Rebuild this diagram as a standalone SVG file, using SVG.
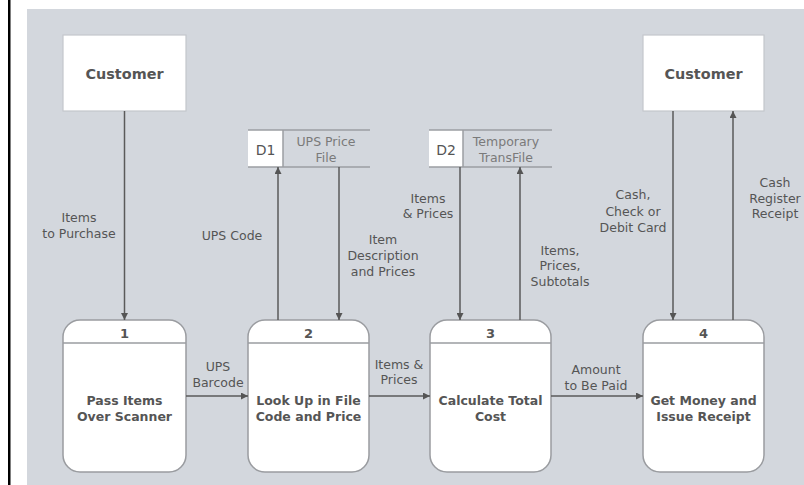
<svg xmlns="http://www.w3.org/2000/svg" width="804" height="485" viewBox="0 0 804 485">
<defs>
<marker id="ah" viewBox="0 0 10 10" refX="10" refY="5" markerWidth="7" markerHeight="7" markerUnits="userSpaceOnUse" orient="auto">
<path d="M0,0 L10,5 L0,10 Z" fill="#555"/>
</marker>
<style>
.ent{fill:#fff;stroke:#c4c7cc;stroke-width:1.2}
.ent-t{font-family:"DejaVu Sans",Verdana,sans-serif;font-size:14.4px;font-weight:bold;fill:#555;text-anchor:middle}
.proc{fill:#fff;stroke:#9a9ca0;stroke-width:1.5}
.div{stroke:#9a9ca0;stroke-width:1.5}
.num{font-family:"DejaVu Sans",Verdana,sans-serif;font-size:13px;font-weight:bold;fill:#555;text-anchor:middle}
.pt{font-family:"DejaVu Sans",Verdana,sans-serif;font-size:12.5px;font-weight:bold;fill:#555;text-anchor:middle}
.st{stroke:#9c9ea2;stroke-width:1.5;fill:none}
.sid{fill:#fff}
.sidt{font-family:"DejaVu Sans",Verdana,sans-serif;font-size:14px;fill:#555;text-anchor:middle}
.stt{font-family:"DejaVu Sans",Verdana,sans-serif;font-size:12.5px;fill:#7a7a7a;text-anchor:middle}
.flow{stroke:#5a5a5a;stroke-width:1.5;fill:none;marker-end:url(#ah)}
.lbl{font-family:"DejaVu Sans",Verdana,sans-serif;font-size:12.5px;fill:#555;text-anchor:middle}
</style>
</defs>
<rect x="0" y="0" width="804" height="485" fill="#fff"/>
<rect x="8" y="0" width="2.5" height="485" fill="#000"/>
<rect x="27" y="9" width="777" height="476" fill="#d3d7dd"/>

<g id="customer-1">
<rect class="ent" x="63" y="35" width="123" height="76"/>
<text class="ent-t" x="124.5" y="79">Customer</text>
</g>
<g id="customer-2">
<rect class="ent" x="643" y="35" width="121" height="76"/>
<text class="ent-t" x="703.5" y="79">Customer</text>
</g>

<g id="store-d1">
<rect class="sid" x="248" y="130" width="35" height="37"/>
<path class="st" d="M370,130 H248 M248,167 H370 M283,130 V167"/>
<text class="sidt" x="265.5" y="155">D1</text>
<text class="stt" x="326" y="146">UPS Price</text>
<text class="stt" x="326" y="162">File</text>
</g>
<g id="store-d2">
<rect class="sid" x="429" y="130" width="34" height="37"/>
<path class="st" d="M552,130 H429 M429,167 H552 M463,130 V167"/>
<text class="sidt" x="446" y="155">D2</text>
<text class="stt" x="506" y="146">Temporary</text>
<text class="stt" x="506" y="162">TransFile</text>
</g>

<g id="process-1">
<rect class="proc" x="63" y="320" width="123" height="152" rx="17"/>
<line class="div" x1="63" y1="343" x2="186" y2="343"/>
<text class="num" x="124.5" y="338">1</text>
<text class="pt" x="124.5" y="405">Pass Items</text>
<text class="pt" x="124.5" y="421">Over Scanner</text>
</g>
<g id="process-2">
<rect class="proc" x="248" y="320" width="121" height="152" rx="17"/>
<line class="div" x1="248" y1="343" x2="369" y2="343"/>
<text class="num" x="308.5" y="338">2</text>
<text class="pt" x="308.5" y="405">Look Up in File</text>
<text class="pt" x="308.5" y="421">Code and Price</text>
</g>
<g id="process-3">
<rect class="proc" x="430" y="320" width="121" height="152" rx="17"/>
<line class="div" x1="430" y1="343" x2="551" y2="343"/>
<text class="num" x="490.5" y="338">3</text>
<text class="pt" x="490.5" y="405">Calculate Total</text>
<text class="pt" x="490.5" y="421">Cost</text>
</g>
<g id="process-4">
<rect class="proc" x="643" y="320" width="121" height="152" rx="17"/>
<line class="div" x1="643" y1="343" x2="764" y2="343"/>
<text class="num" x="703.5" y="338">4</text>
<text class="pt" x="703.5" y="405">Get Money and</text>
<text class="pt" x="703.5" y="421">Issue Receipt</text>
</g>

<g id="connectors">
<line class="flow" x1="124.5" y1="111" x2="124.5" y2="320"/>
<line class="flow" x1="278" y1="320" x2="278" y2="167"/>
<line class="flow" x1="339" y1="167" x2="339" y2="320"/>
<line class="flow" x1="460" y1="167" x2="460" y2="320"/>
<line class="flow" x1="520" y1="320" x2="520" y2="167"/>
<line class="flow" x1="673" y1="111" x2="673" y2="320"/>
<line class="flow" x1="733" y1="320" x2="733" y2="111"/>
<line class="flow" x1="186" y1="396" x2="248" y2="396"/>
<line class="flow" x1="369" y1="396" x2="430" y2="396"/>
<line class="flow" x1="551" y1="396" x2="643" y2="396"/>

<text class="lbl" x="79" y="222">Items</text>
<text class="lbl" x="79" y="238">to Purchase</text>
<text class="lbl" x="232" y="240">UPS Code</text>
<text class="lbl" x="383" y="244">Item</text>
<text class="lbl" x="383" y="260">Description</text>
<text class="lbl" x="383" y="276">and Prices</text>
<text class="lbl" x="428" y="203">Items</text>
<text class="lbl" x="428" y="218">&amp; Prices</text>
<text class="lbl" x="560" y="255">Items,</text>
<text class="lbl" x="560" y="270">Prices,</text>
<text class="lbl" x="560" y="286">Subtotals</text>
<text class="lbl" x="633" y="199">Cash,</text>
<text class="lbl" x="633" y="216">Check or</text>
<text class="lbl" x="633" y="232">Debit Card</text>
<text class="lbl" x="775" y="187">Cash</text>
<text class="lbl" x="775" y="203">Register</text>
<text class="lbl" x="775" y="218">Receipt</text>
<text class="lbl" x="218" y="371">UPS</text>
<text class="lbl" x="218" y="387">Barcode</text>
<text class="lbl" x="399" y="369">Items &amp;</text>
<text class="lbl" x="399" y="384">Prices</text>
<text class="lbl" x="596" y="374">Amount</text>
<text class="lbl" x="596" y="390">to Be Paid</text>
</g>
</svg>
